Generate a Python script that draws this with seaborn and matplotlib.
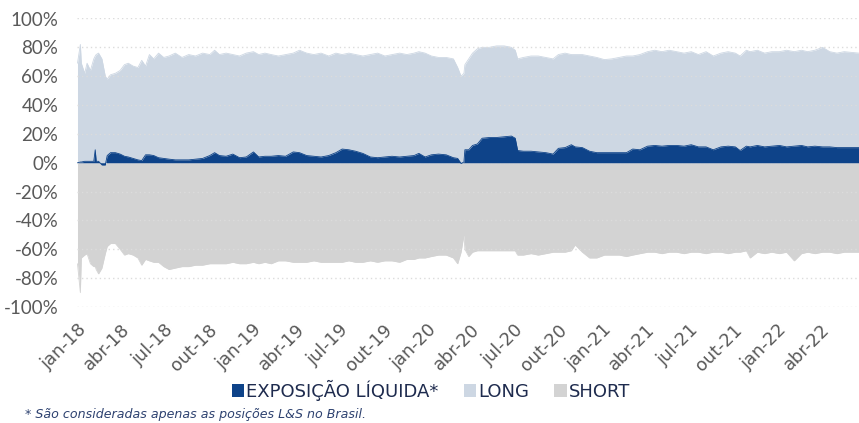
import matplotlib
matplotlib.use("Agg")
import matplotlib.pyplot as plt
from matplotlib.patches import Patch
import seaborn as sns
import pandas as pd

# ---- data ----
dates = [
    "2018-01-02", "2018-01-08", "2018-01-10", "2018-01-17", "2018-01-22", "2018-01-29",
    "2018-02-05", "2018-02-08", "2018-02-10", "2018-02-15", "2018-02-22", "2018-03-01",
    "2018-03-05", "2018-03-12", "2018-03-22", "2018-04-01", "2018-04-10", "2018-04-18",
    "2018-04-28", "2018-05-08", "2018-05-16", "2018-05-24", "2018-06-01", "2018-06-10",
    "2018-06-20", "2018-07-01", "2018-07-12", "2018-07-25", "2018-08-08", "2018-08-22",
    "2018-09-05", "2018-09-20", "2018-10-05", "2018-10-15", "2018-10-25", "2018-11-08",
    "2018-11-22", "2018-12-06", "2018-12-20", "2019-01-04", "2019-01-15", "2019-01-28",
    "2019-02-10", "2019-02-25", "2019-03-12", "2019-03-28", "2019-04-10", "2019-04-25",
    "2019-05-10", "2019-05-25", "2019-06-10", "2019-06-25", "2019-07-08", "2019-07-22",
    "2019-08-05", "2019-08-20", "2019-09-05", "2019-09-20", "2019-10-05", "2019-10-20",
    "2019-11-05", "2019-11-20", "2019-12-05", "2019-12-15", "2019-12-28", "2020-01-10",
    "2020-01-25", "2020-02-10", "2020-02-25", "2020-03-05", "2020-03-12", "2020-03-18",
    "2020-03-20", "2020-03-28", "2020-04-05", "2020-04-15", "2020-04-25", "2020-05-10",
    "2020-05-25", "2020-06-10", "2020-06-25", "2020-07-03", "2020-07-08", "2020-07-20",
    "2020-08-05", "2020-08-20", "2020-09-05", "2020-09-20", "2020-10-01", "2020-10-15",
    "2020-10-28", "2020-11-05", "2020-11-20", "2020-12-05", "2020-12-20", "2021-01-05",
    "2021-01-20", "2021-02-05", "2021-02-20", "2021-03-05", "2021-03-20", "2021-04-05",
    "2021-04-20", "2021-05-05", "2021-05-20", "2021-06-05", "2021-06-20", "2021-07-05",
    "2021-07-20", "2021-08-05", "2021-08-20", "2021-09-05", "2021-09-20", "2021-10-05",
    "2021-10-15", "2021-10-28", "2021-11-05", "2021-11-20", "2021-12-05", "2021-12-20",
    "2022-01-05", "2022-01-20", "2022-02-05", "2022-02-20", "2022-03-05", "2022-03-20",
    "2022-04-05", "2022-04-20", "2022-05-05", "2022-05-20", "2022-06-20",
]

long_pct = [
    69, 82, 69, 62, 69, 64,
    72, 74, 75, 76, 72, 60,
    58, 61, 62, 64, 68, 69,
    67, 66, 71, 67, 75, 72,
    76, 73, 74, 76, 73, 75,
    74, 76, 75, 78, 75, 76,
    75, 74, 76, 77, 75, 76,
    75, 74, 75, 76, 78, 76,
    75, 76, 74, 76, 75, 76,
    75, 74, 75, 76, 74, 75,
    76, 75, 76, 77, 76, 74,
    73, 73, 72, 66, 60, 62,
    68, 72, 76, 79, 80, 80,
    81, 81, 80, 78, 72, 73,
    74, 74, 73, 72, 75, 76,
    75, 75, 75, 74, 73, 71.5,
    72, 73, 74, 74, 75, 77,
    78, 77, 78, 77, 76, 77,
    75, 77, 74, 76, 77, 76,
    74, 78, 77, 78, 76, 77,
    77, 78, 77, 78, 77, 78,
    80, 77, 76, 77, 76,
]

net_pct = [
    0, 0.5, 0.5, 1, 1, 1,
    1, 9, 1, 1, -1.5, -1.5,
    5, 7, 7, 6, 4.5, 4,
    3, 2, 1.5, 5.5, 5.5, 5,
    3.5, 3, 2.5, 2, 2, 2,
    2.5, 3, 5, 7, 5, 4.5,
    6, 3.5, 4, 7.5, 4, 4.5,
    4.5, 5, 4.5, 7.5, 7, 5,
    4.5, 4, 5, 7, 9.5, 9,
    8, 6.5, 4, 3.5, 4, 4.5,
    4, 4.5, 5, 6.5, 4, 5.5,
    6, 5.5, 3.5, 3, -0.5, 0.5,
    9, 9, 12, 13, 17, 17.5,
    17.5, 18, 18.5, 17, 8.5, 8,
    8, 7.5, 7, 6, 10, 10.5,
    12.5, 11, 10.5, 8, 7, 7,
    7, 7, 7, 9.5, 9, 11.5,
    12, 11.5, 12, 12, 11.5, 12.5,
    11, 11, 9, 11, 11.5, 11,
    8.5, 11.5, 11, 12, 11, 11.5,
    12, 11, 11.5, 12, 11, 11.5,
    11, 11, 10.5, 10.5, 10.5,
]

short_pct = [
    -70, -90, -66, -64, -63, -70,
    -72, -72, -74, -77, -73, -63,
    -58, -56, -56, -60, -64, -63,
    -64, -66, -71, -67, -68, -69,
    -69, -72, -74, -73, -72, -72,
    -71, -71, -70, -70, -70, -70,
    -69, -70, -70, -69, -70, -69,
    -70, -68, -68, -69, -69, -69,
    -68, -69, -69, -69, -69, -68,
    -69, -69, -68, -69, -68, -68,
    -69, -67, -67, -66, -66, -65,
    -64, -64, -66, -70, -62, -50,
    -60, -65, -62, -61, -61, -61,
    -61, -61, -61, -61, -64, -64,
    -63, -64, -63, -62, -62, -62,
    -61, -57, -62, -66, -66, -64,
    -64, -64, -65, -64, -63, -62,
    -62, -63, -62, -62, -63, -62,
    -62, -63, -62, -62, -63, -62,
    -62, -61, -66, -62, -63, -62,
    -63, -62, -68, -63, -62, -63,
    -62, -62, -63, -62, -62,
]

tick_labels = ["jan-18", "abr-18", "jul-18", "out-18", "jan-19", "abr-19", "jul-19",
               "out-19", "jan-20", "abr-20", "jul-20", "out-20", "jan-21", "abr-21",
               "jul-21", "out-21", "jan-22", "abr-22"]
y_ticks = [-100, -80, -60, -40, -20, 0, 20, 40, 60, 80, 100]
series_names = ["EXPOSIÇÃO LÍQUIDA*", "LONG", "SHORT"]
footnote = "* São consideradas apenas as posições L&S no Brasil."

# ---- styling ----
C_NET = "#0E4389"
C_LONG = "#CDD7E3"
C_SHORT = "#D3D3D3"
C_TICK = "#595959"
C_LEG = "#1E2B4E"

sns.set_theme(style="white")
plt.rcParams["font.family"] = ["DejaVu Sans"]

df = pd.DataFrame({"date": pd.to_datetime(dates), "long": long_pct,
                   "net": net_pct, "short": short_pct})

fig = plt.figure(figsize=(8.59, 4.23), dpi=100)
ax = fig.add_axes([77 / 859, 1 - 307 / 423, 1 - 77 / 859, (307 - 18.5) / 423])

ax.fill_between(df["date"], 0, df["long"], color=C_LONG, linewidth=0, zorder=1)
ax.fill_between(df["date"], 0, df["short"], color=C_SHORT, linewidth=0, zorder=1)
sns.lineplot(data=df, x="date", y="long", color=C_LONG, linewidth=0.6, ax=ax, zorder=1)
sns.lineplot(data=df, x="date", y="short", color=C_SHORT, linewidth=0.6, ax=ax, zorder=1)

for yv in y_ticks:
    ax.axhline(yv, color="#DCDCDC", linestyle=(0, (1, 2.2)), linewidth=1.0, zorder=2)

ax.fill_between(df["date"], 0, df["net"], color=C_NET, linewidth=0, zorder=3)
sns.lineplot(data=df, x="date", y="net", color=C_NET, linewidth=0.6, ax=ax, zorder=3)

ax.set_ylim(-100, 100)
ax.set_xlim(pd.Timestamp("2018-01-01"), pd.Timestamp("2022-06-20"))
ax.set_yticks(y_ticks)
ax.set_yticklabels([f"{v}%" for v in y_ticks], fontsize=13.5, color=C_TICK,
                   family=["Lato", "DejaVu Sans"])

mon = {"jan": 1, "abr": 4, "jul": 7, "out": 10}
tick_dates = [pd.Timestamp(2000 + int(t[-2:]), mon[t[:3]], 1) for t in tick_labels]
ax.set_xticks(tick_dates)
ax.set_xticklabels(tick_labels, rotation=45, ha="right", rotation_mode="anchor",
                   fontsize=12.8, color=C_TICK)
ax.tick_params(axis="y", length=0, pad=13.5)
ax.tick_params(axis="x", length=0, pad=10)
ax.set_xlabel("")
ax.set_ylabel("")
for s in ax.spines.values():
    s.set_visible(False)

handles = [Patch(facecolor=C_NET, edgecolor="none"),
           Patch(facecolor=C_LONG, edgecolor="none"),
           Patch(facecolor=C_SHORT, edgecolor="none")]
fig.legend(handles, series_names, loc="center", bbox_to_anchor=(431 / 859, 1 - 390 / 423),
           ncol=3, frameon=False, fontsize=13, handlelength=0.7, handleheight=0.7,
           handletextpad=0.1, columnspacing=1.4, labelcolor=C_LEG)

fig.text(25 / 859, 1 - 414 / 423, footnote, fontsize=9.1, style="italic",
         color="#2E4270", va="center", ha="left")

fig.savefig("out.png", dpi=100, facecolor="white")
